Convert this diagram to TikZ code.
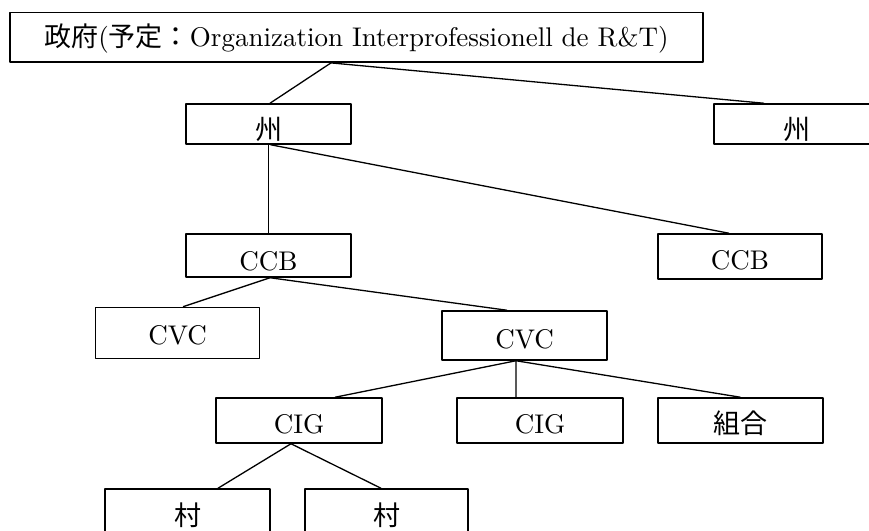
\documentclass[tikz,border=0pt]{standalone}
\usepackage{fontspec}
\setmainfont{lmroman10-regular}[Extension=.otf]
\newfontfamily\jp{Noto Sans CJK JP}
\usetikzlibrary{positioning}

\begin{document}
\begin{tikzpicture}[line join=bevel,
    box/.style={draw, rectangle, inner sep=0pt, line width=1.5bp,
      text height=26bp, text depth=0pt,
      font=\fontsize{27bp}{30bp}\selectfont},
    link/.style={line width=1.3bp}]
    \useasboundingbox (0bp,0bp) rectangle (869bp,531bp);
    \clip (0bp,0bp) rectangle (869bp,531bp);
    %%
    \node (gov) at (356.5bp,493.75bp) [box, minimum width=693bp, minimum height=49.5bp, text height=18bp, line width=1.8bp] {{\jp 政府}({\jp 予定：}Organization Interprofessionell de R\&T)};
      \node (shuL) at (268.5bp,407bp) [box, minimum width=165bp, minimum height=40bp, text height=32bp] {\jp 州};
      \node (shuR) at (797bp,407bp) [box, minimum width=166bp, minimum height=40bp, text height=32bp] {\jp 州};
      \node (ccbL) at (268.5bp,275.5bp) [box, minimum width=165bp, minimum height=43bp, text height=31bp] {CCB};
      \node (ccbR) at (740bp,274.5bp) [box, minimum width=164bp, minimum height=45bp, text height=27bp] {CCB};
      \node (cvcL) at (177.5bp,198bp) [box, minimum width=164bp, minimum height=51bp, text height=24bp] {CVC};
      \node (cvcR) at (524.5bp,195.5bp) [box, minimum width=165bp, minimum height=49bp, text height=27bp] {CVC};
      \node (cigL) at (299bp,110.5bp) [box, minimum width=166bp, minimum height=45bp] {CIG};
      \node (cigM) at (540bp,110.5bp) [box, minimum width=166bp, minimum height=45bp] {CIG};
      \node (kumiai) at (740.5bp,110.5bp) [box, minimum width=165bp, minimum height=45bp] {\jp 組合};
      \node (muraL) at (187.5bp,19.5bp) [box, minimum width=165bp, minimum height=45bp, text height=27bp] {\jp 村};
      \node (muraR) at (386.5bp,19.5bp) [box, minimum width=163bp, minimum height=45bp, text height=27bp] {\jp 村};
    %
      \draw [link] ([xshift=-25.5bp]gov.south) -- ([xshift=1.5bp]shuL.north);
      \draw [link] ([xshift=-25.5bp]gov.south) -- ([xshift=-33bp]shuR.north);
      \draw [link] (shuL.south) -- (ccbL.north);
      \draw [link] ([xshift=2bp]shuL.south) -- ([xshift=-11bp]ccbR.north);
      \draw [link] ([xshift=1.5bp]ccbL.south) -- ([xshift=5.5bp]cvcL.north);
      \draw [link] ([xshift=1.5bp]ccbL.south) -- ([xshift=-17.5bp]cvcR.north);
      \draw [link] ([xshift=-8.5bp]cvcR.south) -- ([xshift=36bp]cigL.north);
      \draw [link] ([xshift=-8.5bp]cvcR.south) -- ([xshift=-24bp]cigM.north);
      \draw [link] ([xshift=-8.5bp]cvcR.south) -- (kumiai.north);
      \draw [link] ([xshift=-8bp]cigL.south) -- ([xshift=30.5bp]muraL.north);
      \draw [link] ([xshift=-8bp]cigL.south) -- ([xshift=-5.5bp]muraR.north);
    %
\end{tikzpicture}
\end{document}
